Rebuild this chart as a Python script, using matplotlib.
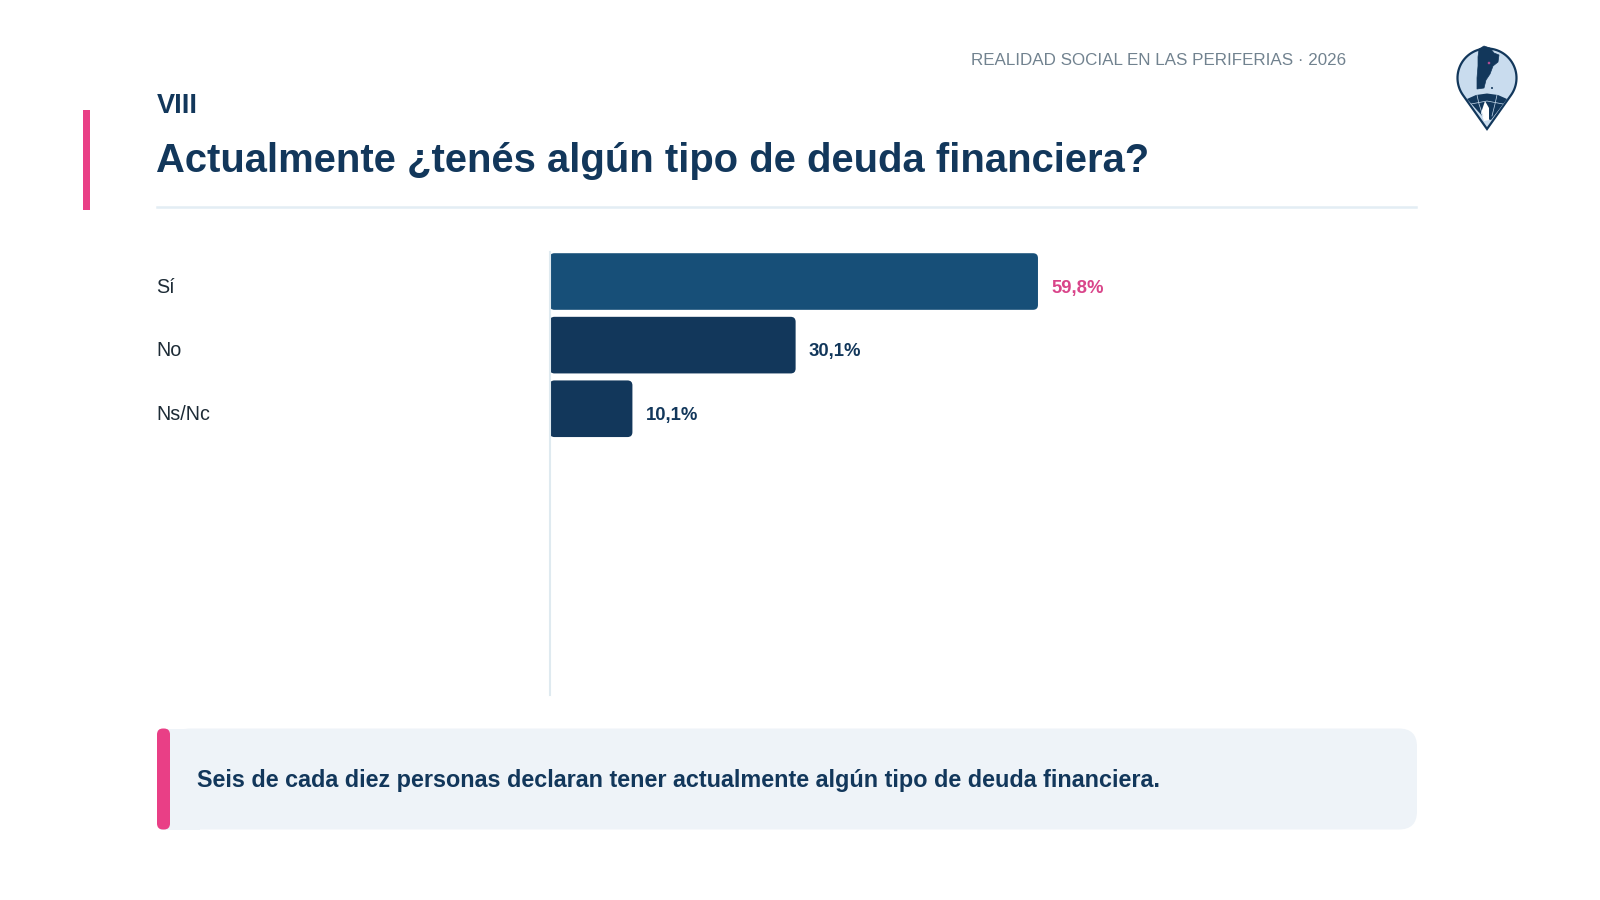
import matplotlib
matplotlib.use('Agg')
from matplotlib import pyplot as plt
from matplotlib.patches import FancyBboxPatch, Rectangle, Polygon, Circle
import numpy as np

categories = ['Sí', 'No', 'Ns/Nc']
values = [59.8, 30.1, 10.1]
value_labels = ['59,8%', '30,1%', '10,1%']
bar_colors = ['#174f78', '#12375b', '#12375b']
label_colors = ['#d9458a', '#12375b', '#12375b']

section = 'VIII'
title = 'Actualmente ¿tenés algún tipo de deuda financiera?'
header = 'REALIDAD SOCIAL EN LAS PERIFERIAS · 2026'
note = 'Seis de cada diez personas declaran tener actualmente algún tipo de deuda financiera.'

NAVY = '#12375b'
PINK = '#e93f86'

plt.rcParams['font.family'] = ['Liberation Sans', 'DejaVu Sans']

fig = plt.figure(figsize=(16, 9), dpi=100, facecolor='white')

# page layer, in pixels
bg = fig.add_axes([0, 0, 1, 1])
bg.set_xlim(0, 1600)
bg.set_ylim(900, 0)
bg.axis('off')

bg.add_patch(Rectangle((83, 110), 7, 100, color=PINK, lw=0))
bg.plot([157, 1416], [206.5, 206.5], color='#e3edf4', lw=1.8)
bg.text(156.5, 106, section, color=NAVY, fontsize=19.5, fontweight='bold', va='center')
bg.text(156, 161, title, color=NAVY, fontsize=28.8, fontweight='bold', va='center')
bg.text(1346, 60.5, header, color='#71828f', fontsize=12.25, ha='right', va='center')

# callout box
bg.add_patch(FancyBboxPatch((172, 728.5), 1245, 101, boxstyle='round,pad=0,rounding_size=18',
                            fc='#eef3f8', ec='none'))
bg.add_patch(Rectangle((160, 728.5), 40, 101, fc='#eef3f8', ec='none'))
bg.add_patch(FancyBboxPatch((157, 728.5), 13, 101, boxstyle='round,pad=0,rounding_size=6',
                            fc=PINK, ec='none'))
bg.text(197, 781, note, color=NAVY, fontsize=16.8, fontweight='bold', va='center')

# logo pin: circle arc closed at the tip
t = np.radians(np.linspace(-36, 216, 60))
pin_x = 1487 + 29.5 * np.cos(t)
pin_y = 78 + 29.5 * np.sin(-t)
outline = list(zip(pin_x, pin_y)) + [(1487, 129)]
bg.add_patch(Polygon(outline, closed=True, fc='#c9dcee', ec=NAVY, lw=1.6, joinstyle='miter'))
bg.add_patch(Polygon([(1467, 99), (1476, 95), (1487, 93.5), (1498, 95), (1507, 99), (1491, 120), (1484, 118)],
                     closed=True, fc=NAVY, ec='none'))
bg.plot([1477, 1479, 1483], [95, 104, 116], color='#c9dcee', lw=0.5)
bg.plot([1497, 1495, 1492], [95, 104, 116], color='#c9dcee', lw=0.5)
bg.plot([1471, 1487, 1503], [104, 101, 104], color='#c9dcee', lw=0.5)
bg.add_patch(Polygon([(1485, 101), (1489, 108), (1489, 120), (1484, 121), (1481, 113)], closed=True, fc='white', ec='none'))
bg.add_patch(Polygon([(1479, 49), (1484, 46), (1490, 48), (1494, 53), (1499, 55), (1498, 62), (1493, 66), (1490, 74),
                      (1486, 80), (1484, 88), (1477, 89), (1477, 78), (1478, 66), (1478, 57)],
                     closed=True, fc=NAVY, ec=NAVY, lw=0.5))
bg.add_patch(Circle((1489, 63), 1.3, fc='#b04d93', ec='none'))
bg.add_patch(Circle((1492, 88), 1, fc=NAVY, ec='none'))

# chart
ax = fig.add_axes([550 / 1600, 1 - 695 / 900, 816 / 1600, 443 / 900], facecolor='none')
ax.set_xlim(0, 100)
ax.set_ylim(6.5, -0.464)
for s in ['top', 'right', 'bottom']:
    ax.spines[s].set_visible(False)
ax.spines['left'].set_color('#dfeaf0')
ax.spines['left'].set_linewidth(1.5)
ax.set_xticks([])
ax.set_yticks([])

bars = ax.barh(range(len(values)), values, height=0.89, color='none')
# y units per x unit so the corners come out round
aspect = (6.964 / 443) / (100 / 816)
for b, c in zip(bars, bar_colors):
    ax.add_patch(FancyBboxPatch((b.get_x() - 0.05, b.get_y()), b.get_width() + 0.05, b.get_height(),
                                boxstyle='round,pad=0,rounding_size=0.6',
                                mutation_aspect=aspect, fc=c, ec='none'))

for i, v in enumerate(values):
    ax.annotate(categories[i], xy=(0, i), xytext=(-283.7, -4), textcoords='offset points',
                color='#1d2b36', fontsize=14.2, va='center', ha='left')
    ax.annotate(value_labels[i], xy=(v, i), xytext=(9.5, -4.7), textcoords='offset points',
                color=label_colors[i], fontsize=13.3, fontweight='bold', va='center', ha='left')

fig.savefig('out.png', dpi=100)
